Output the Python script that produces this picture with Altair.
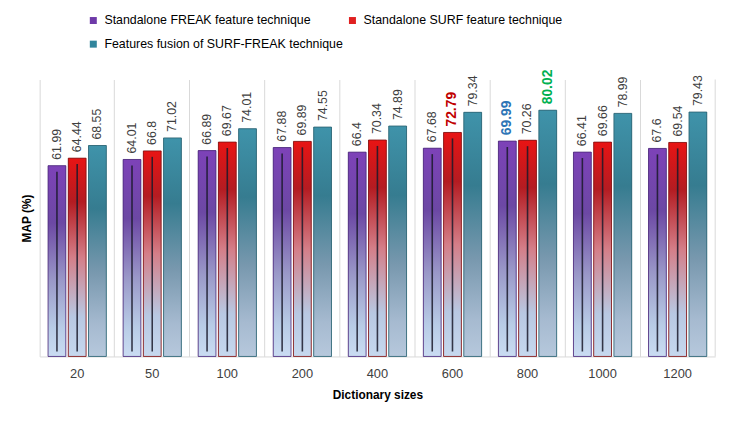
import altair as alt
import pandas as pd

sizes = ["20", "50", "100", "200", "400", "600", "800", "1000", "1200"]
series = [
    "Standalone FREAK feature technique",
    "Standalone SURF feature technique",
    "Features fusion of SURF-FREAK technique",
]
freak = [61.99, 64.01, 66.89, 67.88, 66.4, 67.68, 69.99, 66.41, 67.6]
surf = [64.44, 66.8, 69.67, 69.89, 70.34, 72.79, 70.26, 69.66, 69.54]
fusion = [68.55, 71.02, 74.01, 74.55, 74.89, 79.34, 80.02, 78.99, 79.43]

legend_colors = ["#6e3aa8", "#e02020", "#31859c"]
highlights = {("600", 1): "#c00000", ("800", 0): "#2e75b6", ("800", 2): "#00b050"}

rows = []
for si, vals in enumerate([freak, surf, fusion]):
    for c, v in zip(sizes, vals):
        hl = highlights.get((c, si))
        rows.append({"size": c, "series": series[si], "sidx": si, "value": v,
                     "label": str(v), "hl": hl is not None,
                     "lcolor": hl if hl else "#404040"})
df = pd.DataFrame(rows)

x_enc = alt.X("size:N", sort=sizes, title="Dictionary sizes",
              scale=alt.Scale(paddingInner=0, paddingOuter=0),
              axis=alt.Axis(labelAngle=0, bandPosition=0, grid=True, gridColor="#d9d9d9",
                            ticks=False, domainColor="#d9d9d9", labelPadding=11,
                            labelFontSize=13, labelColor="#404040", labelFont="Liberation Sans",
                            titleFont="Liberation Sans", titleFontSize=12, titleFontWeight="bold",
                            titleColor="#000000", titlePadding=10))
xo_enc = alt.XOffset("series:N", sort=series, scale=alt.Scale(paddingInner=0.12, paddingOuter=0.415))
y_enc = alt.Y("value:Q", scale=alt.Scale(domain=[0, 90]), title="MAP (%)",
              axis=alt.Axis(labels=False, ticks=False, domain=False, grid=False,
                            titleFont="Liberation Sans", titleFontSize=12, titleFontWeight="bold",
                            titleColor="#000000", titlePadding=6))

base = alt.Chart(df)

legend_layer = base.mark_bar().encode(
    x=x_enc, xOffset=xo_enc, y=y_enc,
    color=alt.Color("series:N", sort=series,
                    scale=alt.Scale(domain=series, range=legend_colors),
                    legend=alt.Legend(title=None, orient="none", legendX=48, legendY=-66,
                                      columns=2, columnPadding=3, rowPadding=11,
                                      symbolType="square", symbolSize=50, symbolStrokeWidth=0,
                                      labelFont="Liberation Sans", labelFontSize=12.5,
                                      labelLimit=0,
                                      labelColor="#000000", labelOffset=5, direction="horizontal")),
)

grads = [
    [("#7d42b8", 0.0), ("#6c48a4", 0.3), ("#9a98c8", 0.6), ("#b8cce6", 0.85), ("#cadcf2", 1.0)],
    [("#e81414", 0.0), ("#b41c22", 0.22), ("#d47e88", 0.5), ("#b8c8e2", 0.8), ("#c6d8ee", 1.0)],
    [("#3f93aa", 0.0), ("#367c90", 0.3), ("#7898ae", 0.6), ("#a6bad0", 0.85), ("#b6c8dc", 1.0)],
]
strokes = ["#4a2878", "#7a1010", "#2a6070"]

bar_layers = []
for si in range(3):
    g = alt.Gradient(gradient="linear", x1=0, x2=0, y1=0, y2=1,
                     stops=[alt.GradientStop(color=c, offset=o) for c, o in grads[si]])
    bar_layers.append(
        base.transform_filter(alt.datum.sidx == si)
        .mark_bar(fill=g, stroke=strokes[si], strokeWidth=0.8)
        .encode(x=x_enc, xOffset=xo_enc, y=y_enc)
    )

center_lines = base.transform_filter(alt.datum.sidx < 2).mark_rule(
    color="#1a1a2a", strokeWidth=1.6, opacity=0.85, yOffset=6, y2Offset=-5
).encode(x=x_enc, xOffset=xo_enc, y=y_enc, y2=alt.datum(0))

text_normal = base.transform_filter(alt.datum.hl == False).mark_text(
    angle=270, align="left", baseline="middle", dx=6,
    font="Liberation Sans", fontSize=12.5, color="#404040"
).encode(x=x_enc, xOffset=xo_enc, y=y_enc, text="label:N")

text_hl = base.transform_filter(alt.datum.hl == True).mark_text(
    angle=270, align="left", baseline="middle", dx=6,
    font="Liberation Sans", fontSize=14, fontWeight="bold"
).encode(x=x_enc, xOffset=xo_enc, y=y_enc, text="label:N",
         color=alt.Color("lcolor:N", scale=None))

right_edge = alt.Chart(pd.DataFrame({"a": [0]})).mark_rule(color="#d9d9d9").encode(
    x=alt.value(683), y=alt.value(0), y2=alt.value(280))

chart = alt.layer(legend_layer, *bar_layers, center_lines, text_normal, text_hl, right_edge).properties(
    width=683, height=280,
    autosize=alt.AutoSizeParams(type="none"),
    padding={"left": 32, "top": 70, "right": 17, "bottom": 66},
    background="#ffffff",
).configure_view(stroke=None)

chart.save("out.html", embed_options={"renderer": "svg", "actions": False})
